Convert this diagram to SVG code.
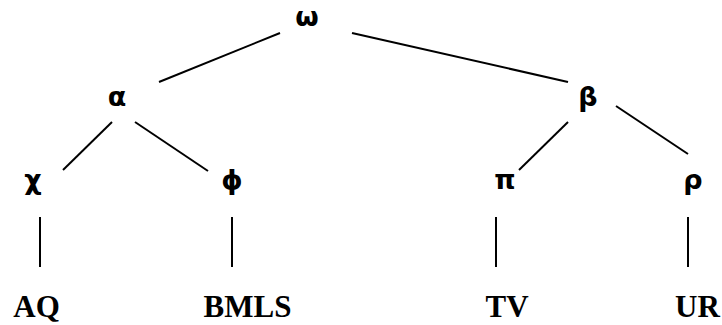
<svg xmlns="http://www.w3.org/2000/svg" width="722" height="325" viewBox="0 0 722 325">
<style>
.g{font-family:"DejaVu Sans","Noto Sans",sans-serif;font-size:27px;font-weight:bold;fill:#000;text-anchor:middle}
.t{font-family:"Liberation Serif","Times New Roman",serif;font-size:31px;font-weight:bold;fill:#000;text-anchor:middle}
.e line{stroke:#000;stroke-width:2;stroke-linecap:butt}
</style>
<rect width="722" height="325" fill="#fff"/>
<g class="e" id="connectors">
<line x1="280" y1="33" x2="159" y2="82"/>
<line x1="352" y1="33" x2="568" y2="82"/>
<line x1="112" y1="122" x2="63" y2="170"/>
<line x1="135" y1="122" x2="208" y2="171"/>
<line x1="568" y1="122" x2="519" y2="170"/>
<line x1="616" y1="106" x2="688" y2="154"/>
<line x1="40" y1="217" x2="40" y2="267"/>
<line x1="232" y1="217" x2="232" y2="267"/>
<line x1="496" y1="217" x2="496" y2="267"/>
<line x1="688" y1="217" x2="688" y2="267"/>
</g>
<g id="omega"><text class="g" x="307" y="26">ω</text></g>
<g id="alpha"><text class="g" x="117" y="106">α</text></g>
<g id="beta"><text class="g" x="588" y="106">β</text></g>
<g id="chi"><text class="g" x="33" y="189">χ</text></g>
<g id="phi"><text class="g" x="232" y="189">ϕ</text></g>
<g id="pi"><text class="g" x="505" y="189">π</text></g>
<g id="rho"><text class="g" x="693" y="189">ρ</text></g>
<g id="AQ"><text class="t" x="36.5" y="317">AQ</text></g>
<g id="BMLS"><text class="t" x="247.5" y="317">BMLS</text></g>
<g id="TV"><text class="t" x="507" y="317">TV</text></g>
<g id="UR"><text class="t" x="697.5" y="317">UR</text></g>
</svg>
